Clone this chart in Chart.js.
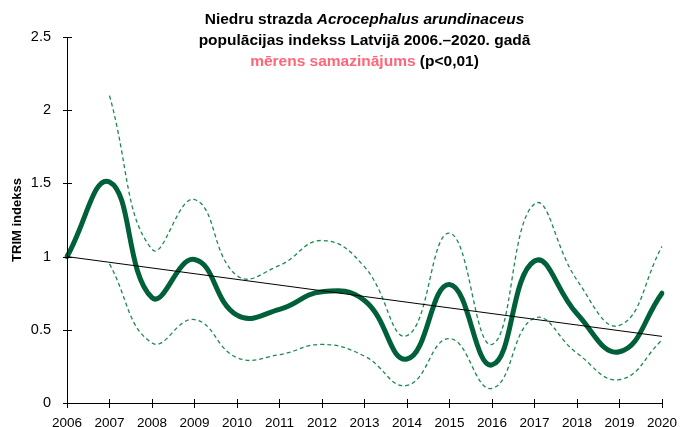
<!DOCTYPE html>
<html>
<head>
<meta charset="utf-8">
<script src="https://cdn.jsdelivr.net/npm/chart.js@4"></script>
<style>
  html, body { margin: 0; padding: 0; background: #fff; }
  #wrap { width: 681px; height: 427px; }
</style>
</head>
<body>
<div id="wrap"><canvas id="chart"></canvas></div>
<script>
const years = ['2006','2007','2008','2009','2010','2011','2012','2013','2014','2015','2016','2017','2018','2019','2020'];
const index = [1.0, 1.51, 0.72, 0.98, 0.60, 0.64, 0.76, 0.70, 0.30, 0.81, 0.26, 0.97, 0.61, 0.35, 0.75];
const upper = [null, 2.10, 1.05, 1.39, 0.87, 0.94, 1.11, 0.93, 0.46, 1.16, 0.40, 1.36, 0.84, 0.53, 1.07];
const lower = [null, 0.95, 0.41, 0.57, 0.31, 0.33, 0.40, 0.32, 0.12, 0.44, 0.10, 0.58, 0.34, 0.16, 0.43];
const trend = [1.0, null, null, null, null, null, null, null, null, null, null, null, null, null, 0.455];
const yTicks = [0, 0.5, 1, 1.5, 2, 2.5];

const font = '"Liberation Sans", Arial, sans-serif';

// title drawn by hand: the third line has two colours
const titlePlugin = {
    id: 'titleText',
    afterDraw(chart) {
        const c = chart.ctx;
        const cx = (chart.chartArea.left + chart.chartArea.right) / 2;
        c.save();
        c.textBaseline = 'alphabetic';
        c.fillStyle = '#000';
        c.font = 'bold 15.5px ' + font;
        const l1a = 'Niedru strazda ';
        const l1b = 'Acrocephalus arundinaceus';
        const wa = c.measureText(l1a).width;
        c.font = 'bold italic 15.5px ' + font;
        const wb = c.measureText(l1b).width;
        let x = cx - (wa + wb) / 2;
        c.font = 'bold 15.5px ' + font;
        c.textAlign = 'left';
        c.fillText(l1a, x, 24);
        c.font = 'bold italic 15.5px ' + font;
        c.fillText(l1b, x + wa, 24);

        c.font = 'bold 15.5px ' + font;
        c.textAlign = 'center';
        c.fillText('populācijas indekss Latvijā 2006.–2020. gadā', cx, 45);

        const l3a = 'mērens samazinājums';
        const l3b = ' (p<0,01)';
        const w3a = c.measureText(l3a).width;
        const w3b = c.measureText(l3b).width;
        x = cx - (w3a + w3b) / 2;
        c.textAlign = 'left';
        c.fillStyle = '#ff6677';
        c.fillText(l3a, x, 66);
        c.fillStyle = '#000';
        c.fillText(l3b, x + w3a, 66);
        c.restore();
    }
};

// axis lines with tick marks crossing the axis
const axisPlugin = {
    id: 'axisTicks',
    afterDatasetsDraw(chart) {
        const c = chart.ctx;
        const xs = chart.scales.x, ys = chart.scales.y;
        const a = chart.chartArea;
        c.save();
        c.strokeStyle = '#000';
        c.lineWidth = 1;
        c.beginPath();
        c.moveTo(a.left + 0.5, a.top);
        c.lineTo(a.left + 0.5, a.bottom + 0.5);
        c.lineTo(a.right, a.bottom + 0.5);
        yTicks.forEach(v => {
            const py = Math.round(ys.getPixelForValue(v)) + 0.5;
            c.moveTo(a.left - 4, py);
            c.lineTo(a.left + 5, py);
        });
        years.forEach((y, i) => {
            const px = Math.round(xs.getPixelForValue(i)) + 0.5;
            c.moveTo(px, a.bottom - 4);
            c.lineTo(px, a.bottom + 5);
        });
        c.stroke();
        c.restore();
    }
};

const ctx = document.getElementById('chart').getContext('2d');
new Chart(ctx, {
    type: 'line',
    data: {
        labels: years,
        datasets: [
            {
                data: trend,
                borderColor: '#000',
                borderWidth: 1,
                pointRadius: 0,
                spanGaps: true,
                tension: 0
            },
            {
                data: upper,
                borderColor: '#1a8a4e',
                borderWidth: 1.3,
                borderDash: [4, 3],
                pointRadius: 0,
                tension: 0.45
            },
            {
                data: lower,
                borderColor: '#1a8a4e',
                borderWidth: 1.3,
                borderDash: [4, 3],
                pointRadius: 0,
                tension: 0.45
            },
            {
                data: index,
                borderColor: '#00603a',
                borderWidth: 5,
                pointRadius: 0,
                tension: 0.45,
                borderCapStyle: 'round',
                borderJoinStyle: 'round'
            }
        ]
    },
    options: {
        responsive: true,
        maintainAspectRatio: false,
        animation: false,
        layout: { padding: { top: 37, right: 19, left: 10, bottom: 0 } },
        plugins: {
            legend: { display: false },
            tooltip: { enabled: false }
        },
        scales: {
            x: {
                offset: false,
                grid: { display: false },
                border: { display: false },
                ticks: {
                    color: '#000',
                    font: { family: font, size: 13.5 },
                    maxRotation: 0,
                    autoSkip: false,
                    padding: 4
                },
                afterFit(s) { s.height = 24; }
            },
            y: {
                min: 0,
                max: 2.5,
                grid: { display: false },
                border: { display: false },
                ticks: {
                    stepSize: 0.5,
                    color: '#000',
                    font: { family: font, size: 14.5 },
                    padding: 8,
                    callback: v => String(v)
                },
                title: {
                    display: true,
                    text: 'TRIM indekss',
                    color: '#000',
                    font: { family: font, size: 13, weight: 'bold' },
                    padding: { top: 0, bottom: 4 }
                },
                afterFit(s) { s.width = 57; }
            }
        }
    },
    plugins: [titlePlugin, axisPlugin]
});
</script>
</body>
</html>
